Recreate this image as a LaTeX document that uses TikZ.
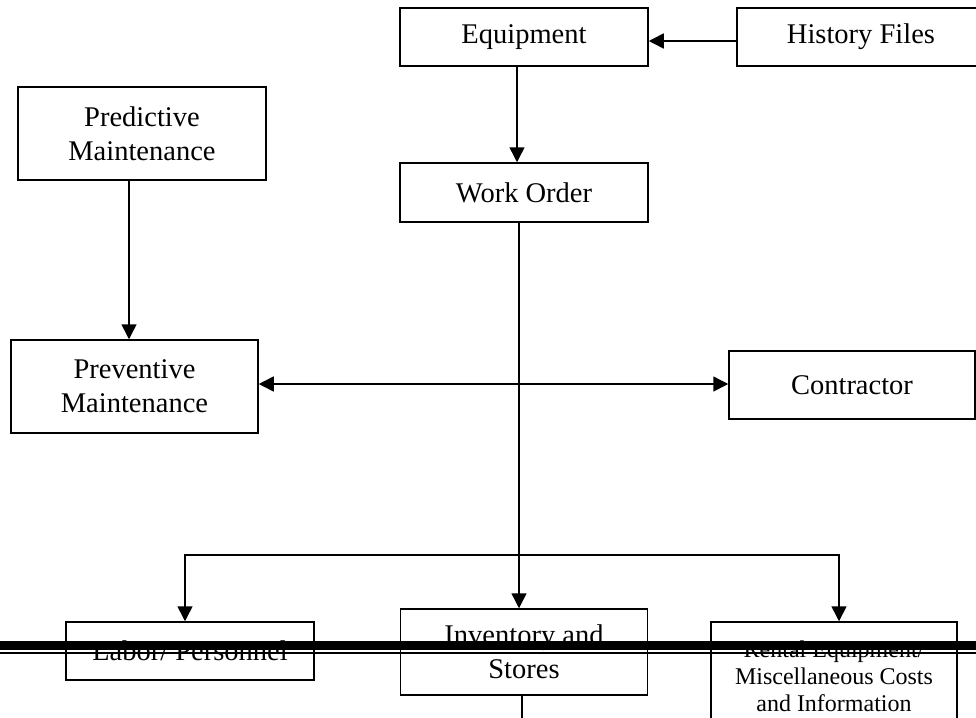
\documentclass[tikz,border=0pt]{standalone}
\usepackage{fontspec}
\setmainfont{Liberation Serif}
\usetikzlibrary{arrows.meta}
\begin{document}
\begin{tikzpicture}[x=1pt,y=-1pt,
  box/.style={draw,line width=1.5pt,inner sep=0pt,align=center,
    font=\fontsize{28.5}{34}\selectfont},
  smallbox/.style={box,font=\fontsize{24}{27}\selectfont},
  link/.style={line width=1.5pt},
  tip/.tip={Triangle[length=15pt,width=15pt]},
  arr/.style={link,-tip},
  twoway/.style={link,tip-tip}]
\useasboundingbox (0,0) rectangle (976,717);

% boxes
\node[box,minimum width=248pt,minimum height=58pt] (equip) at (524,37) {Equipment};
\node[box,minimum width=248pt,minimum height=58pt] (hist) at (861,37) {History Files};
\node[box,minimum width=248pt,minimum height=59pt] (wo) at (524,192.5) {Work Order};
\node[box,minimum width=248pt,minimum height=93pt] (pred) at (142,133.5) {Predictive\\Maintenance};
\node[box,minimum width=247pt,minimum height=93pt] (prev) at (134.5,386.5) {Preventive\\Maintenance};
\node[box,minimum width=246pt,minimum height=68pt] (contr) at (852,385) {Contractor};
\node[box,minimum width=248pt,minimum height=58pt] (labor) at (190,651) {Labor/ Personnel};
\node[box,minimum width=247pt,minimum height=86pt] (inv) at (524,652) {Inventory and\\Stores};
\node[smallbox,minimum width=246pt,minimum height=108pt] (rental) at (834,676)
  {Rental Equipment/\\Miscellaneous Costs\\and Information};

% helper coordinates
\coordinate (pc) at (129,0);
\coordinate (hy) at (0,384);
\coordinate (j) at (519,555);
\coordinate (down) at (522,730);

% connectors
\draw[arr] ([yshift=-4pt]hist.west) -- ([yshift=-4pt]equip.east);
\draw[arr] ([xshift=-7pt]equip.south) -- ([xshift=-7pt]wo.north);
\draw[arr] (pred.south -| pc) -- (prev.north -| pc);
\draw[twoway] (prev.east |- hy) -- (contr.west |- hy);
\draw[arr] ([xshift=-5pt]wo.south) -- ([xshift=-5pt]inv.north);
\draw[arr] (j) -| ([xshift=-5pt]labor.north);
\draw[arr] (j) -| ([xshift=5pt]rental.north);
\draw[link] (inv.south -| down) -- (down);

% page break rule
\fill[black] (-5,641) rectangle (981,650);
\draw[line width=1.6pt] (-5,652.7) -- (981,652.7);
\end{tikzpicture}
\end{document}
